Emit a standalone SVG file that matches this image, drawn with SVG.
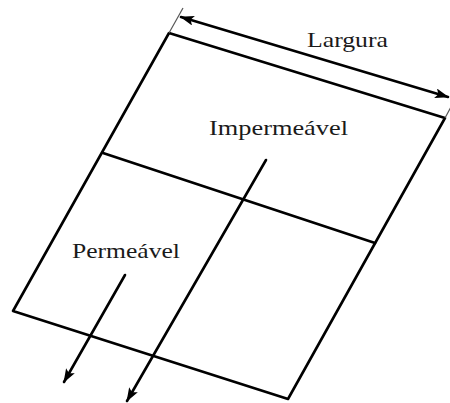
<svg xmlns="http://www.w3.org/2000/svg" width="450" height="403" viewBox="0 0 450 403">
<defs>
<style>
.edge{stroke:#000;stroke-width:2.6;fill:none;stroke-linecap:round;stroke-linejoin:round}
.ext{stroke:#555;stroke-width:1.2;fill:none}
.arr{stroke:#000;stroke-width:2.6;fill:none;stroke-linecap:round}
.lbl{font-family:"Liberation Serif","Times New Roman",serif;fill:#1a1a1a}
</style>
<marker id="ah" markerUnits="userSpaceOnUse" markerWidth="16" markerHeight="12" refX="13" refY="5" orient="auto">
<path d="M0,0 L14,5 L0,10 L3,5 Z" fill="#000"/>
</marker>
<marker id="ahs" markerUnits="userSpaceOnUse" markerWidth="16" markerHeight="12" refX="13" refY="5" orient="auto-start-reverse">
<path d="M0,0 L14,5 L0,10 L3,5 Z" fill="#000"/>
</marker>
</defs>
<g id="plot">
<path class="edge" d="M169,33 L445,118 L288,399 L13,311 Z"/>
<line class="edge" x1="103" y1="153" x2="375" y2="243"/>
</g>
<g id="connectors">
<line class="ext" x1="169" y1="33" x2="183" y2="8"/>
<line class="ext" x1="445" y1="118" x2="451" y2="107"/>
<line class="arr" x1="181" y1="17" x2="448" y2="97" marker-start="url(#ahs)" marker-end="url(#ah)"/>
<line class="arr" x1="266" y1="160" x2="127" y2="401" marker-end="url(#ah)"/>
<line class="arr" x1="125" y1="275" x2="64" y2="382" marker-end="url(#ah)"/>
</g>
<g id="label-largura"><text class="lbl" x="307" y="47" font-size="22" textLength="81" lengthAdjust="spacingAndGlyphs">Largura</text></g>
<g id="label-impermeavel"><text class="lbl" x="209" y="135" font-size="22" textLength="139" lengthAdjust="spacingAndGlyphs">Impermeável</text></g>
<g id="label-permeavel"><text class="lbl" x="72" y="258" font-size="22" textLength="108" lengthAdjust="spacingAndGlyphs">Permeável</text></g>
</svg>
